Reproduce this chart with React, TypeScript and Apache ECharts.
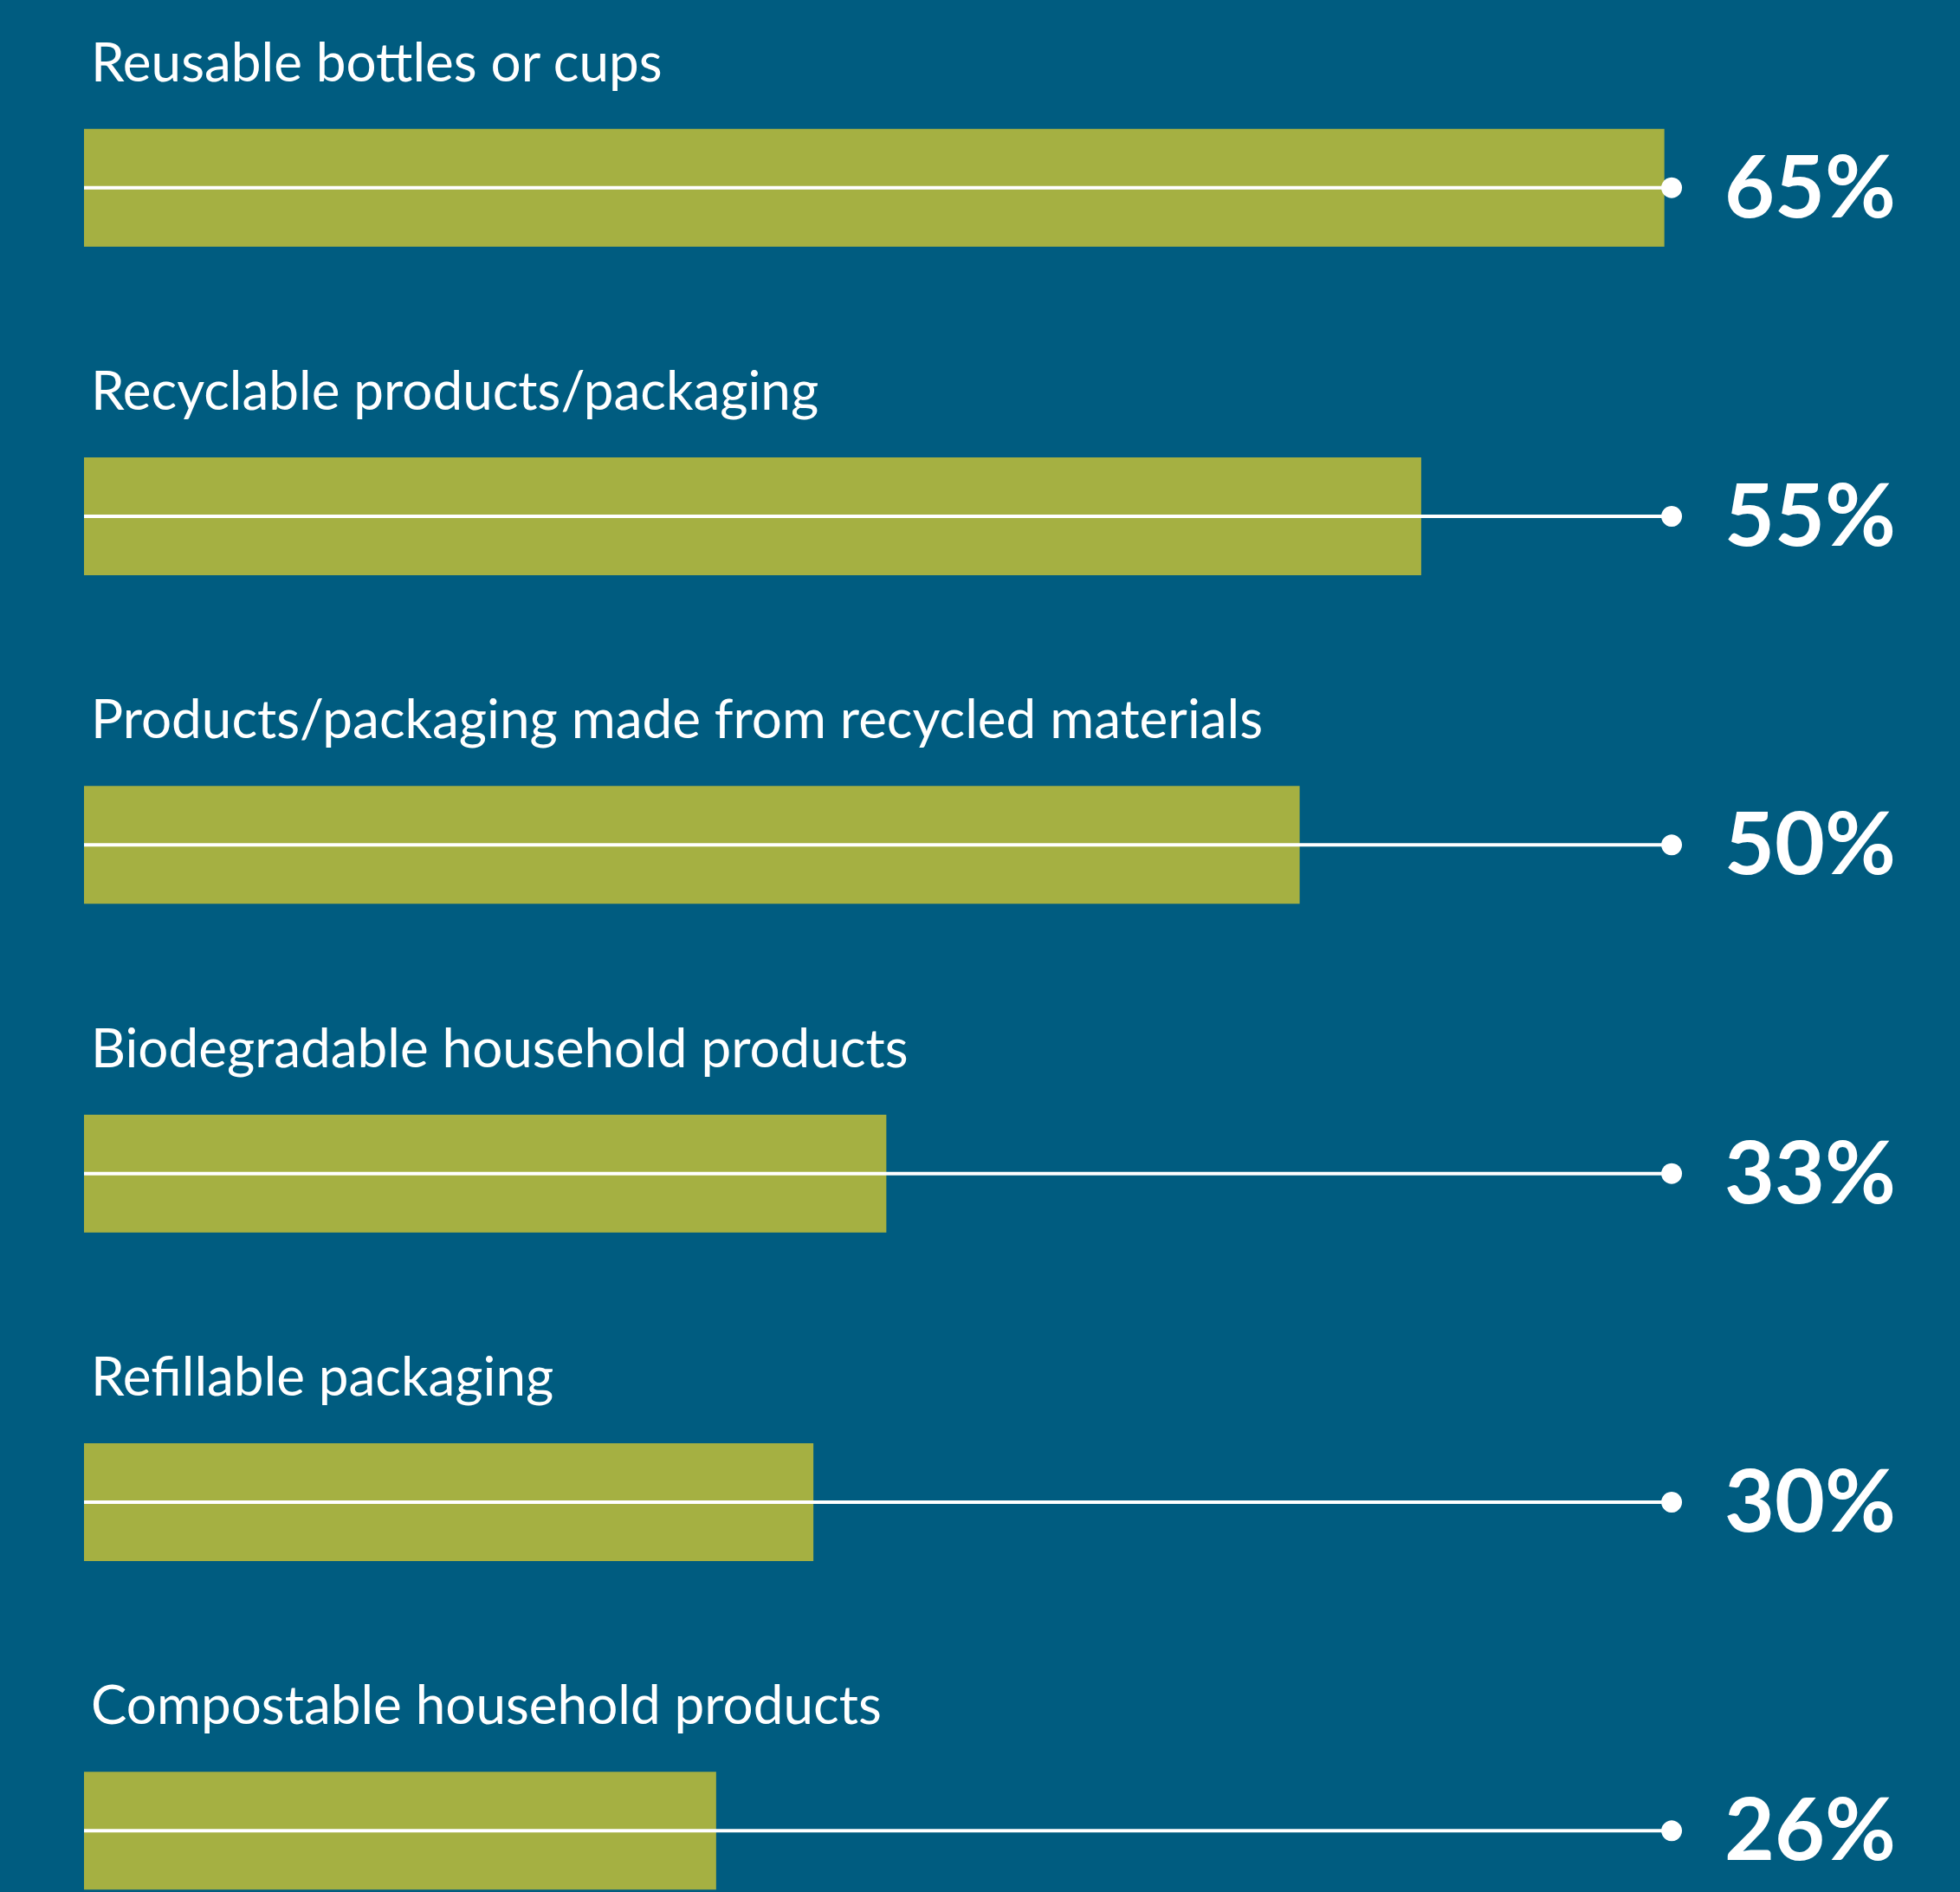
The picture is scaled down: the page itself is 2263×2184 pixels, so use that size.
import React, { useEffect, useRef } from "react";
import * as echarts from "echarts";

const categories = [
  "Reusable bottles or cups",
  "Recyclable products/packaging",
  "Products/packaging made from recycled materials",
  "Biodegradable household products",
  "Refillable packaging",
  "Compostable household products",
];
const values = [65, 55, 50, 33, 30, 26];
const LINE_END = 65.3;
const AXIS_MAX = 70;

const BG = "#005C80";
const BAR = "#A5B042";

export default function App() {
  const ref = useRef<HTMLDivElement>(null);
  useEffect(() => {
    document.body.style.margin = "0";
    document.body.style.background = BG;
    document.documentElement.style.overflow = "hidden";
    const chart = echarts.init(ref.current!, null, { renderer: "svg" });
    chart.setOption({
      animation: false,
      backgroundColor: BG,
      grid: { left: 97, top: 27, width: 1965, height: 2276 },
      xAxis: { type: "value", min: 0, max: AXIS_MAX, show: false },
      yAxis: { type: "category", data: categories, inverse: true, show: false },
      series: [
        {
          type: "bar",
          data: values,
          barWidth: 136,
          itemStyle: { color: BAR },
          label: {
            show: true,
            position: [8, -79],
            align: "left",
            verticalAlign: "middle",
            formatter: "{b}",
            color: "#ffffff",
            fontFamily: "Lato",
            fontSize: 62,
          },
          z: 2,
        },
        {
          type: "custom",
          data: values.map((v, i) => [v, i]),
          encode: { x: 0, y: 1 },
          z: 5,
          renderItem: (params: any, api: any) => {
            const idx = api.value(1);
            const v = api.value(0);
            const s = api.coord([0, idx]);
            const e = api.coord([LINE_END, idx]);
            return {
              type: "group",
              children: [
                {
                  type: "line",
                  shape: { x1: s[0], y1: s[1], x2: e[0], y2: e[1] },
                  style: { stroke: "#ffffff", lineWidth: 4 },
                },
                {
                  type: "circle",
                  shape: { cx: e[0], cy: e[1], r: 12 },
                  style: { fill: "#ffffff" },
                },
                {
                  type: "text",
                  style: {
                    text: `${v}%`,
                    x: e[0] + 259,
                    y: e[1] - 5,
                    align: "right",
                    verticalAlign: "middle",
                    fill: "#ffffff",
                    fontFamily: "Lato",
                    fontWeight: "bold",
                    fontSize: 100,
                  },
                },
              ],
            };
          },
        },
      ],
    });
    return () => chart.dispose();
  }, []);
  return (
    <div
      ref={ref}
      style={{ position: "absolute", left: 0, top: 0, width: 2263, height: 2340 }}
    />
  );
}
